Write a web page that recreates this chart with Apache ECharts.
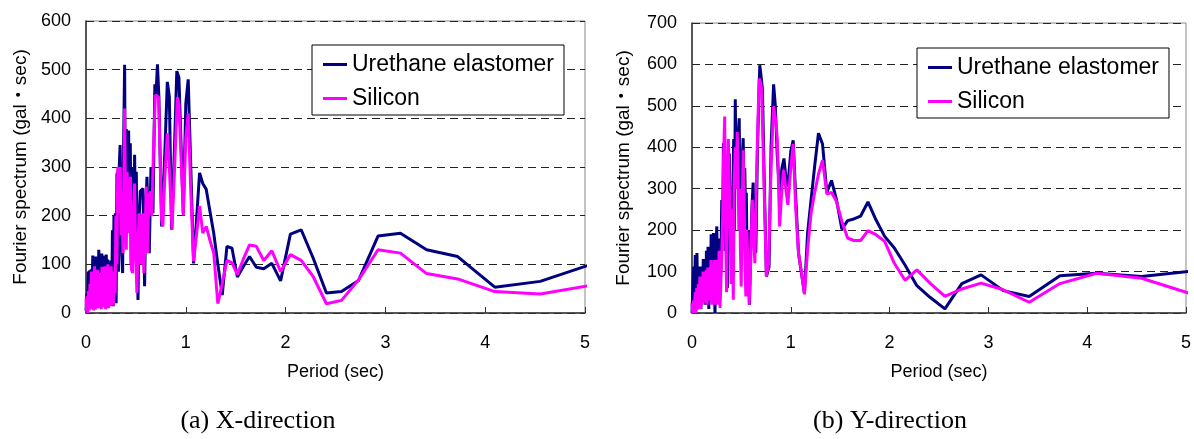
<!DOCTYPE html>
<html>
<head>
<meta charset="utf-8">
<title>Fourier spectrum</title>
<script src="https://cdn.jsdelivr.net/npm/echarts@6.0.0/dist/echarts.min.js"></script>
<style>
  html, body { margin: 0; padding: 0; background: #fff; }
  #chart { width: 1194px; height: 439px; }
</style>
</head>
<body>
<div id="chart"></div>
<script>
// 軸目盛
const xTicks = [0, 1, 2, 3, 4, 5];
const yMaxX = 600;
const yMaxY = 700;
const seriesNames = ['Urethane elastomer', 'Silicon'];
const captions = ['(a) X-direction', '(b) Y-direction'];

// (a) X-direction : [period, spectrum]
const xUrethane = [
  [0.000, 5], [0.010, 40], [0.016, 10], [0.022, 85], [0.030, 20], [0.037, 88], [0.045, 12],
  [0.052, 90], [0.060, 30], [0.068, 118], [0.075, 35], [0.083, 108], [0.090, 18], [0.097, 116],
  [0.105, 50], [0.112, 92], [0.120, 10], [0.128, 130], [0.136, 55], [0.143, 100], [0.150, 15],
  [0.158, 122], [0.165, 45], [0.172, 118], [0.180, 25], [0.187, 110], [0.195, 10], [0.203, 120],
  [0.210, 40], [0.218, 110], [0.226, 20], [0.234, 102], [0.242, 15], [0.250, 108], [0.258, 30],
  [0.265, 170], [0.272, 14], [0.280, 200], [0.288, 45], [0.294, 205], [0.302, 20], [0.310, 285],
  [0.317, 290], [0.325, 85], [0.333, 300], [0.342, 345], [0.350, 349], [0.358, 120], [0.367, 82],
  [0.377, 350], [0.387, 510], [0.395, 180], [0.404, 378], [0.412, 250], [0.420, 340], [0.427, 375],
  [0.436, 200], [0.444, 349], [0.452, 100], [0.461, 300], [0.470, 260], [0.479, 150], [0.487, 325],
  [0.496, 200], [0.504, 290], [0.512, 120], [0.521, 27], [0.531, 190], [0.544, 250], [0.557, 248],
  [0.571, 256], [0.587, 55], [0.600, 220], [0.611, 280], [0.623, 180], [0.634, 123], [0.651, 300],
  [0.671, 205], [0.690, 470], [0.702, 450], [0.716, 511], [0.730, 445], [0.758, 178], [0.790, 330],
  [0.815, 475], [0.835, 445], [0.858, 171], [0.885, 330], [0.910, 497], [0.931, 484], [0.975, 205],
  [1.000, 430], [1.024, 480], [1.050, 300], [1.078, 102], [1.107, 190], [1.138, 288], [1.170, 266],
  [1.205, 254], [1.241, 210], [1.280, 164], [1.321, 100], [1.365, 37], [1.412, 137], [1.463, 133],
  [1.517, 74], [1.575, 95], [1.638, 116], [1.707, 94], [1.781, 91], [1.862, 102], [1.950, 66],
  [2.048, 162], [2.156, 171], [2.276, 113], [2.409, 41], [2.560, 44], [2.731, 67], [2.926, 158],
  [3.151, 164], [3.413, 130], [3.724, 116], [4.096, 53], [4.551, 65], [5.120, 104]
];
const xSilicon = [
  [0.000, 30], [0.006, 5], [0.012, 35], [0.018, 0], [0.025, 45], [0.032, 5], [0.040, 60],
  [0.047, 10], [0.055, 85], [0.062, 8], [0.070, 70], [0.078, 5], [0.085, 96], [0.093, 7],
  [0.100, 60], [0.108, 15], [0.115, 89], [0.123, 10], [0.130, 75], [0.138, 20], [0.145, 82],
  [0.153, 8], [0.160, 95], [0.168, 12], [0.175, 70], [0.183, 25], [0.190, 96], [0.198, 8],
  [0.205, 80], [0.213, 20], [0.220, 100], [0.228, 10], [0.236, 90], [0.244, 17], [0.252, 96],
  [0.260, 15], [0.268, 40], [0.276, 17], [0.284, 85], [0.292, 40], [0.300, 200], [0.310, 100],
  [0.318, 300], [0.327, 205], [0.335, 290], [0.344, 300], [0.352, 160], [0.360, 250], [0.370, 123],
  [0.378, 240], [0.387, 420], [0.396, 200], [0.404, 130], [0.412, 290], [0.420, 287], [0.428, 200],
  [0.437, 164], [0.446, 280], [0.455, 90], [0.467, 82], [0.476, 200], [0.487, 266], [0.498, 120],
  [0.510, 41], [0.522, 150], [0.534, 205], [0.546, 100], [0.557, 96], [0.568, 205], [0.580, 82],
  [0.592, 160], [0.604, 260], [0.616, 123], [0.630, 240], [0.645, 250], [0.660, 199], [0.675, 330],
  [0.695, 448], [0.710, 445], [0.728, 444], [0.758, 191], [0.770, 178], [0.790, 280], [0.815, 369],
  [0.835, 300], [0.862, 171], [0.888, 300], [0.915, 443], [0.931, 430], [0.975, 201], [1.000, 360],
  [1.024, 410], [1.050, 250], [1.078, 106], [1.107, 160], [1.138, 220], [1.170, 164], [1.205, 178],
  [1.241, 150], [1.280, 123], [1.321, 19], [1.365, 60], [1.412, 108], [1.463, 103], [1.517, 79],
  [1.575, 110], [1.638, 140], [1.707, 137], [1.781, 108], [1.862, 128], [1.950, 85], [2.048, 120],
  [2.156, 108], [2.276, 75], [2.409, 19], [2.560, 26], [2.731, 68], [2.926, 130], [3.151, 123],
  [3.413, 81], [3.724, 70], [4.096, 44], [4.551, 39], [5.120, 59]
];

// (b) Y-direction : [period, spectrum]
const yUrethane = [
  [0.000, 0], [0.008, 60], [0.017, 112], [0.025, 30], [0.033, 140], [0.042, 40], [0.050, 145],
  [0.058, 20], [0.066, 100], [0.074, 48], [0.082, 112], [0.090, 10], [0.098, 100], [0.106, 32],
  [0.114, 130], [0.122, 40], [0.130, 120], [0.138, 20], [0.146, 150], [0.154, 60], [0.162, 160],
  [0.170, 10], [0.178, 140], [0.186, 60], [0.194, 190], [0.202, 30], [0.210, 120], [0.217, 193],
  [0.225, 70], [0.233, 0], [0.241, 150], [0.251, 209], [0.259, 40], [0.267, 180], [0.275, 90],
  [0.284, 177], [0.292, 100], [0.301, 273], [0.310, 200], [0.318, 410], [0.327, 250], [0.335, 150],
  [0.342, 380], [0.350, 200], [0.358, 60], [0.368, 250], [0.378, 385], [0.387, 150], [0.396, 262],
  [0.405, 100], [0.414, 300], [0.422, 420], [0.430, 200], [0.438, 516], [0.446, 340], [0.454, 400],
  [0.462, 310], [0.470, 440], [0.478, 470], [0.486, 250], [0.494, 380], [0.502, 300], [0.510, 380],
  [0.518, 422], [0.526, 300], [0.534, 350], [0.542, 250], [0.550, 290], [0.560, 70], [0.572, 200],
  [0.582, 20], [0.595, 160], [0.606, 250], [0.619, 315], [0.630, 200], [0.646, 145], [0.663, 400],
  [0.686, 598], [0.700, 570], [0.713, 540], [0.733, 300], [0.753, 88], [0.780, 112], [0.800, 400],
  [0.826, 552], [0.843, 502], [0.863, 380], [0.887, 289], [0.910, 350], [0.931, 373], [0.953, 320],
  [0.970, 305], [1.000, 390], [1.024, 417], [1.050, 280], [1.078, 145], [1.107, 97], [1.138, 48],
  [1.170, 193], [1.205, 273], [1.241, 353], [1.280, 434], [1.321, 408], [1.365, 291], [1.412, 320],
  [1.463, 273], [1.517, 202], [1.575, 223], [1.638, 227], [1.707, 234], [1.781, 268], [1.862, 225],
  [1.950, 185], [2.048, 157], [2.156, 116], [2.276, 66], [2.409, 38], [2.560, 10], [2.731, 71],
  [2.926, 92], [3.151, 54], [3.413, 40], [3.724, 90], [4.096, 96], [4.551, 88], [5.120, 103]
];
const ySilicon = [
  [0.000, 24], [0.008, 0], [0.016, 30], [0.024, 5], [0.032, 50], [0.040, 0], [0.048, 60],
  [0.056, 8], [0.064, 70], [0.072, 15], [0.080, 88], [0.088, 10], [0.096, 72], [0.104, 20],
  [0.112, 100], [0.120, 25], [0.128, 88], [0.136, 30], [0.144, 104], [0.152, 20], [0.160, 110],
  [0.168, 30], [0.176, 100], [0.184, 50], [0.192, 128], [0.200, 20], [0.208, 120], [0.216, 40],
  [0.225, 128], [0.234, 20], [0.242, 128], [0.250, 60], [0.258, 128], [0.266, 20], [0.274, 150],
  [0.284, 12], [0.295, 12], [0.303, 150], [0.311, 241], [0.320, 380], [0.331, 474], [0.340, 200],
  [0.350, 50], [0.358, 300], [0.368, 420], [0.378, 417], [0.387, 200], [0.396, 70], [0.405, 250],
  [0.418, 32], [0.426, 300], [0.438, 400], [0.446, 300], [0.458, 437], [0.466, 350], [0.474, 200],
  [0.482, 300], [0.490, 150], [0.498, 64], [0.508, 250], [0.518, 393], [0.527, 275], [0.536, 120],
  [0.545, 40], [0.555, 200], [0.565, 130], [0.578, 20], [0.595, 128], [0.610, 273], [0.619, 273],
  [0.636, 120], [0.655, 350], [0.679, 566], [0.690, 560], [0.705, 540], [0.730, 300], [0.753, 88],
  [0.775, 120], [0.800, 350], [0.826, 499], [0.850, 460], [0.863, 420], [0.887, 209], [0.910, 300],
  [0.927, 345], [0.955, 290], [0.970, 261], [1.000, 350], [1.024, 408], [1.050, 250], [1.078, 145],
  [1.107, 100], [1.138, 45], [1.170, 153], [1.205, 240], [1.241, 290], [1.280, 335], [1.321, 369],
  [1.365, 287], [1.412, 291], [1.463, 269], [1.517, 221], [1.575, 181], [1.638, 175], [1.707, 175],
  [1.781, 199], [1.862, 189], [1.950, 173], [2.048, 120], [2.156, 79], [2.276, 104], [2.409, 72],
  [2.560, 40], [2.731, 58], [2.926, 72], [3.151, 56], [3.413, 26], [3.724, 71], [4.096, 96],
  [4.551, 84], [5.120, 41]
];

const colors = ['#000080', '#ff00ff'];
const sans = 'Liberation Sans, Arial, Noto Sans CJK JP, sans-serif';
const serif = 'Liberation Serif, Times New Roman, serif';

function makeXAxis(gridIndex) {
  return {
    type: 'value',
    gridIndex: gridIndex,
    min: xTicks[0],
    max: xTicks[xTicks.length - 1],
    interval: 1,
    name: 'Period (sec)',
    nameLocation: 'middle',
    nameGap: 50,
    nameTextStyle: { fontSize: 18, color: '#000', fontFamily: sans },
    axisLine: { lineStyle: { color: '#333', width: 1.5 } },
    axisTick: { inside: true, length: 6, lineStyle: { color: '#333' } },
    axisLabel: { fontSize: 18, color: '#000', margin: 21, fontFamily: sans },
    splitLine: { show: false }
  };
}

function makeYAxis(gridIndex, max, gap) {
  return {
    type: 'value',
    gridIndex: gridIndex,
    min: 0,
    max: max,
    interval: 100,
    name: 'Fourier spectrum (gal・sec)',
    nameLocation: 'middle',
    nameGap: gap,
    nameTextStyle: { fontSize: 19, color: '#000', fontFamily: sans },
    axisLine: { show: true, lineStyle: { color: '#333', width: 1.5 } },
    axisTick: { show: false },
    axisLabel: { fontSize: 18, color: '#000', margin: 15, fontFamily: sans },
    splitLine: { lineStyle: { color: '#222', type: [8, 5], width: 1 } }
  };
}

function makeSeries(name, data, idx, color) {
  return {
    name: name,
    type: 'line',
    xAxisIndex: idx,
    yAxisIndex: idx,
    data: data,
    showSymbol: false,
    symbol: 'none',
    lineStyle: { color: color, width: 3 },
    itemStyle: { color: color },
    clip: true
  };
}

function makeLegend(left, top) {
  return {
    left: left,
    top: top,
    orient: 'vertical',
    itemWidth: 24,
    itemHeight: 3,
    itemGap: 11,
    padding: [8, 10, 5, 11],
    borderColor: '#000',
    borderWidth: 1,
    borderRadius: 0,
    backgroundColor: '#fff',
    textStyle: { fontSize: 23, color: '#000', fontFamily: sans },
    data: seriesNames.map(n => ({ name: n, icon: 'rect' }))
  };
}

const chart = echarts.init(document.getElementById('chart'));
chart.setOption({
  animation: false,
  backgroundColor: '#fff',
  grid: [
    { left: 86, top: 21, width: 499, height: 292, show: true, borderColor: '#888', borderWidth: 1 },
    { left: 692, top: 23, width: 497, height: 290, show: true, borderColor: '#888', borderWidth: 1 }
  ],
  xAxis: [makeXAxis(0), makeXAxis(1)],
  yAxis: [makeYAxis(0, yMaxX, 56), makeYAxis(1, yMaxY, 59)],
  legend: [makeLegend(312, 45), makeLegend(917, 48)],
  series: [
    makeSeries(seriesNames[0], xUrethane, 0, colors[0]),
    makeSeries(seriesNames[1], xSilicon, 0, colors[1]),
    makeSeries(seriesNames[0], yUrethane, 1, colors[0]),
    makeSeries(seriesNames[1], ySilicon, 1, colors[1])
  ],
  graphic: [
    {
      type: 'text', x: 258, y: 421,
      style: { text: captions[0], fontSize: 26, fontFamily: serif, fill: '#000', align: 'center', verticalAlign: 'middle' }
    },
    {
      type: 'text', x: 890, y: 421,
      style: { text: captions[1], fontSize: 26, fontFamily: serif, fill: '#000', align: 'center', verticalAlign: 'middle' }
    }
  ]
});
</script>
</body>
</html>
